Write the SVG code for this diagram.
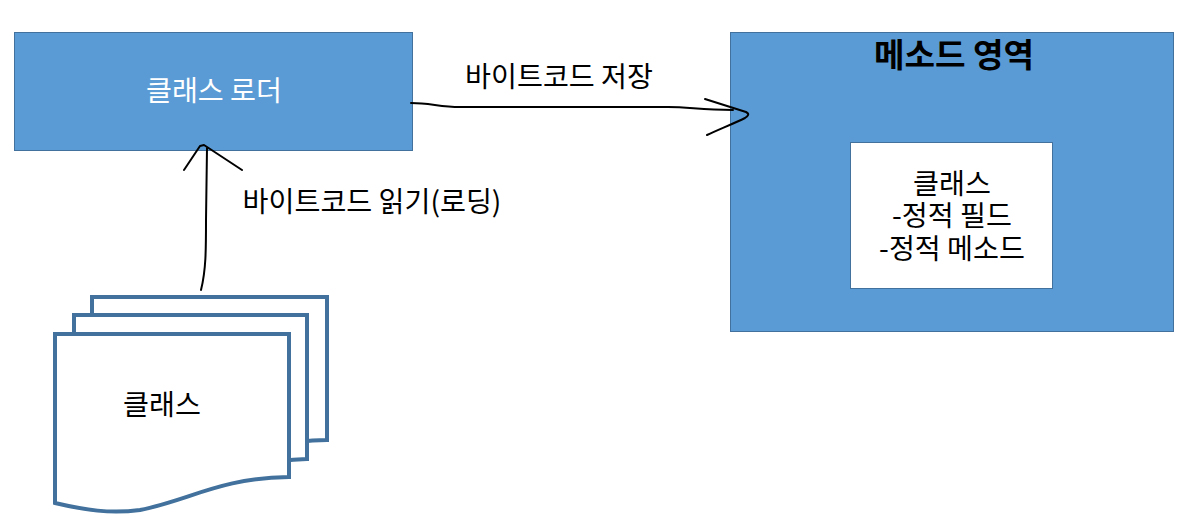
<svg xmlns="http://www.w3.org/2000/svg" width="1193" height="525" viewBox="0 0 1193 525">
<style>
text{font-family:"Noto Sans CJK KR","Noto Sans",sans-serif;font-size:28.2px;fill:#000;text-anchor:middle}
.box{fill:#5b9bd5;stroke:#41719c;stroke-width:1}
.doc{fill:#fff;stroke:#41719c;stroke-width:4}
.ink{fill:none;stroke:#000;stroke-width:2;stroke-linecap:round;stroke-linejoin:round}
</style>
<rect width="1193" height="525" fill="#fff"/>
<g id="loader"><rect class="box" x="14.500" y="32.500" width="398" height="118"/><text x="214" y="101" style="fill:#fff">클래스 로더</text></g>
<g id="method-area"><rect class="box" x="730.500" y="32.500" width="443" height="299"/><text x="954" y="67" style="font-size:33.200px;font-weight:700">메소드 영역</text></g>
<g id="class-box"><rect x="850.500" y="142.500" width="202" height="146" fill="#fff" stroke="#41719c"/><text x="952" y="194"><tspan x="952">클래스</tspan><tspan x="952" dy="31.500">-정적 필드</tspan><tspan x="952" dy="33">-정적 메소드</tspan></text></g>
<g id="class-files">
<path class="doc" d="M92 297H327V440C280 441 260 450 240 458H92Z"/>
<path class="doc" d="M74 315H307V459C265 460 240 470 220 478H74Z"/>
<path class="doc" d="M55 334H289V477C220 478 190 500 140 510C110 514 85 510 55 503Z"/>
<text x="162" y="415">클래스</text>
</g>
<g id="connectors">
<path class="ink" d="M411 103C430 103 440 107 460 107H668C690 107 700 110 733 110"/>
<path class="ink" d="M705 99L746 112C750 114 748 116 745 118C735 123 720 129 707 135"/>
<path class="ink" d="M201 290C206 270 206 250 206 220L207 148M184 170L200 146L204 145L242 170"/>
</g>
<g id="labels">
<text x="559" y="87">바이트코드 저장</text>
<text x="372" y="212">바이트코드 읽기(로딩)</text>
</g>
</svg>
